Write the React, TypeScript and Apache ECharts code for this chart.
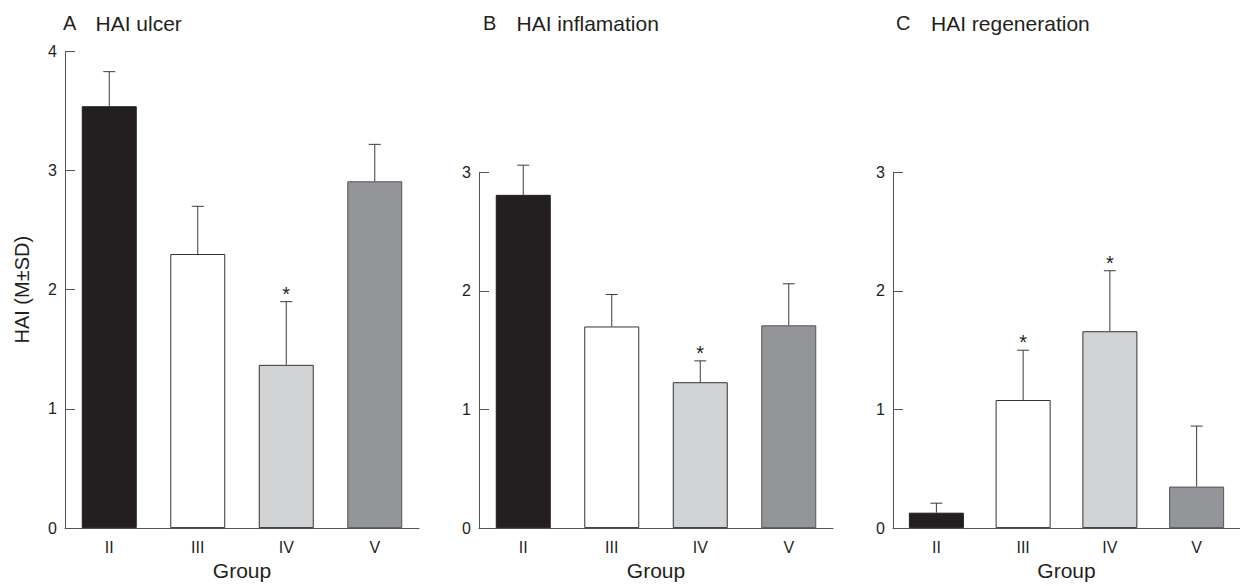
import React, { useEffect, useRef } from "react";
import * as echarts from "echarts";

const categories = ["II", "III", "IV", "V"];

const ulcerMean = [3.54, 2.3, 1.37, 2.91];
const ulcerSD = [0.29, 0.4, 0.53, 0.31];
const ulcerStar = [0, 0, 1, 0];

const inflamMean = [2.81, 1.7, 1.23, 1.71];
const inflamSD = [0.25, 0.27, 0.18, 0.35];
const inflamStar = [0, 0, 1, 0];

const regenMean = [0.13, 1.08, 1.66, 0.35];
const regenSD = [0.08, 0.42, 0.51, 0.51];
const regenStar = [0, 1, 1, 0];

const panelLetters = ["A", "B", "C"];
const panelTitles = ["HAI ulcer", "HAI inflamation", "HAI regeneration"];
const yMax = [4, 3, 3];
const yAxisName = "HAI (M±SD)";
const xAxisName = "Group";

const FONT = "'Liberation Sans', Arial, Helvetica, sans-serif";
const barFill = ["#231f20", "#ffffff", "#d1d3d4", "#939598"];
const barBorder = ["#231f20", "#333333", "#333333", "#555555"];
const axisColor = "#555555";
const textColor = "#231f20";

const panels = [
  { mean: ulcerMean, sd: ulcerSD, star: ulcerStar },
  { mean: inflamMean, sd: inflamSD, star: inflamStar },
  { mean: regenMean, sd: regenSD, star: regenStar },
];

const gridLeft = [65, 479, 893];
const gridWidth = 354;
const gridBottomY = 535;
const unitPx = 120.9;
const titleX = [[63, 95.5], [483, 516.5], [896, 931]];

export default function App() {
  const ref = useRef<HTMLDivElement>(null);

  useEffect(() => {
    if (!ref.current) return;
    const chart = echarts.init(ref.current, undefined, { renderer: "svg" });

    const grids = panels.map((_, i) => ({
      left: gridLeft[i],
      width: gridWidth,
      top: gridBottomY - yMax[i] * unitPx,
      height: yMax[i] * unitPx,
      containLabel: false,
    }));

    const xAxes = panels.map((_, i) => ({
      type: "category",
      gridIndex: i,
      data: categories,
      boundaryGap: true,
      name: xAxisName,
      nameLocation: "middle",
      nameGap: 31,
      nameTextStyle: { fontFamily: FONT, fontSize: 21, color: textColor },
      axisLine: { show: true, lineStyle: { color: axisColor, width: 1 } },
      axisTick: { show: false },
      axisLabel: { fontFamily: FONT, fontSize: 16, color: textColor, margin: 11 },
      splitLine: { show: false },
    }));

    const yAxes = panels.map((_, i) => ({
      type: "value",
      gridIndex: i,
      min: 0,
      max: yMax[i],
      interval: 1,
      name: i === 0 ? yAxisName : "",
      nameLocation: "middle",
      nameGap: 33,
      nameRotate: 90,
      nameTextStyle: { fontFamily: FONT, fontSize: 20, color: textColor },
      axisLine: { show: true, lineStyle: { color: axisColor, width: 1 } },
      axisTick: { show: true, inside: true, length: 10, lineStyle: { color: axisColor } },
      axisLabel: { fontFamily: FONT, fontSize: 16, color: textColor, margin: 8 },
      splitLine: { show: false },
    }));

    const series: any[] = [];
    panels.forEach((p, i) => {
      series.push({
        type: "bar",
        xAxisIndex: i,
        yAxisIndex: i,
        barWidth: 55,
        data: p.mean.map((v, j) => ({
          value: v,
          itemStyle: { color: barFill[j], borderColor: barBorder[j], borderWidth: 1 },
        })),
        silent: true,
      });
      series.push({
        type: "custom",
        xAxisIndex: i,
        yAxisIndex: i,
        silent: true,
        data: p.mean.map((v, j) => [j, v, v + p.sd[j], p.star[j]]),
        renderItem: (params: any, api: any) => {
          const idx = api.value(0);
          const base = api.coord([idx, api.value(1)]);
          const top = api.coord([idx, api.value(2)]);
          const half = 6;
          const children: any[] = [
            {
              type: "line",
              shape: { x1: base[0], y1: base[1], x2: top[0], y2: top[1] },
              style: { stroke: "#3a3a3a", lineWidth: 1 },
            },
            {
              type: "line",
              shape: { x1: top[0] - half, y1: top[1], x2: top[0] + half, y2: top[1] },
              style: { stroke: "#3a3a3a", lineWidth: 1 },
            },
          ];
          if (api.value(3)) {
            children.push({
              type: "text",
              x: top[0],
              y: top[1] - 8,
              style: {
                text: "*",
                fill: textColor,
                font: `20px ${FONT}`,
                align: "center",
                verticalAlign: "middle",
              },
            });
          }
          return { type: "group", children };
        },
      });
    });

    const graphic: any[] = [];
    panels.forEach((_, i) => {
      graphic.push({
        type: "text",
        x: titleX[i][0],
        y: 23,
        style: {
          text: panelLetters[i],
          fill: textColor,
          font: `20px ${FONT}`,
          align: "left",
          verticalAlign: "middle",
        },
      });
      graphic.push({
        type: "text",
        x: titleX[i][1],
        y: 23,
        style: {
          text: panelTitles[i],
          fill: textColor,
          font: `21px ${FONT}`,
          align: "left",
          verticalAlign: "middle",
        },
      });
    });

    chart.setOption({
      animation: false,
      backgroundColor: "#ffffff",
      grid: grids,
      xAxis: xAxes,
      yAxis: yAxes,
      series,
      graphic,
    });

    return () => chart.dispose();
  }, []);

  return (
    <div
      ref={ref}
      style={{ position: "fixed", left: 0, top: 0, width: 1240, height: 586, background: "#fff" }}
    />
  );
}
